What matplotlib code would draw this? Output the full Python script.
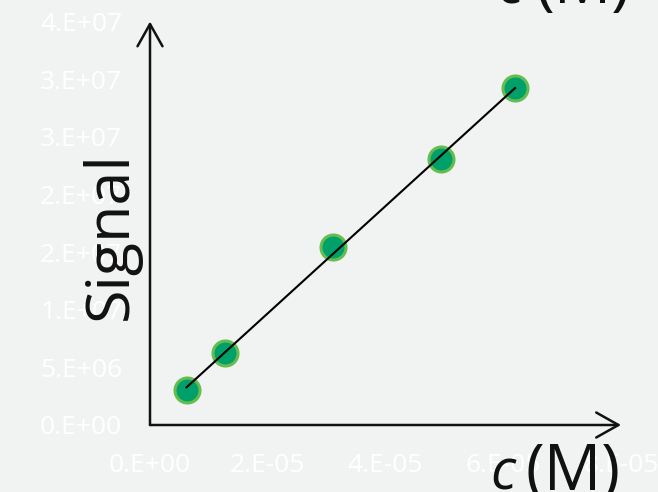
import matplotlib
matplotlib.use("Agg")
import matplotlib.pyplot as plt
import numpy as np

# Calibration data: concentration (M) vs. detector signal
conc = [6.2e-6, 1.27e-5, 3.1e-5, 4.95e-5, 6.2e-5]
signal = [3.03e6, 6.26e6, 1.54e7, 2.31e7, 2.92e7]

x_ticks = [0, 2e-5, 4e-5, 6e-5, 8e-5]
x_tick_labels = ["0.E+00", "2.E-05", "4.E-05", "6.E-05", "8.E-05"]
y_ticks = [0, 5e6, 1e7, 1.5e7, 2e7, 2.5e7, 3e7, 3.5e7]
y_tick_labels = ["0.E+00", "5.E+06", "1.E+07", "2.E+07", "2.E+07", "3.E+07", "3.E+07", "4.E+07"]

BG = "#F1F2F2"
FONT = ["Open Sans", "DejaVu Sans"]

fig = plt.figure(figsize=(6.58, 4.92), dpi=100, facecolor=BG)
ax = fig.add_axes([150 / 658, 67 / 492, 471 / 658, 403.5 / 492])
ax.set_facecolor(BG)
ax.set_xlim(0, 8e-5)
ax.set_ylim(0, 3.5e7)

for s in ax.spines.values():
    s.set_visible(False)

ax.set_xticks(x_ticks)
ax.set_xticklabels(x_tick_labels)
ax.set_yticks(y_ticks)
ax.set_yticklabels(y_tick_labels)
ax.tick_params(length=0, colors="white", labelsize=19, pad=20)
for lbl in ax.get_xticklabels() + ax.get_yticklabels():
    lbl.set_family(FONT)

# Least-squares calibration line across the measured range
slope, intercept = np.polyfit(conc, signal, 1)
xfit = np.array([min(conc), max(conc)])
ax.plot(xfit, slope * xfit + intercept, color="black", lw=1.5, zorder=3)

ax.plot(conc, signal, linestyle="none", marker="o", markersize=18,
        markerfacecolor="#00A06A", markeredgecolor="#66BC4E",
        markeredgewidth=2.2, zorder=2)

# Arrow-headed axes
arrow_kw = dict(arrowstyle="->,head_length=0.8,head_width=0.45",
                color="#111111", lw=1.8, mutation_scale=20,
                shrinkA=0, shrinkB=0)
ax.annotate("", xy=(1, 0), xytext=(0, 0), xycoords="axes fraction",
            arrowprops=arrow_kw, annotation_clip=False)
ax.annotate("", xy=(0, 1), xytext=(0, 0), xycoords="axes fraction",
            arrowprops=arrow_kw, annotation_clip=False)

# Axis titles
fig.text(111 / 658, 1 - 236 / 492, "Signal", rotation=90, ha="center",
         va="center", fontsize=44, family=FONT, color="#111111")
fig.text(490 / 658, 2 / 492, "c", style="italic", ha="left",
         va="baseline", fontsize=40, family=FONT, color="#111111")
fig.text(620 / 658, 2 / 492, "(M)", ha="right", va="baseline",
         fontsize=46, family=FONT, color="#111111")

# Heading text running off the top edge
fig.text(497 / 658, 1 - 3 / 492, "c", style="italic", ha="left",
         va="baseline", fontsize=40, family=FONT, color="#111111")
fig.text(630 / 658, 1 - 3 / 492, "(M)", ha="right", va="baseline",
         fontsize=46, family=FONT, color="#111111")

fig.savefig("out.png", dpi=100, facecolor=BG)
